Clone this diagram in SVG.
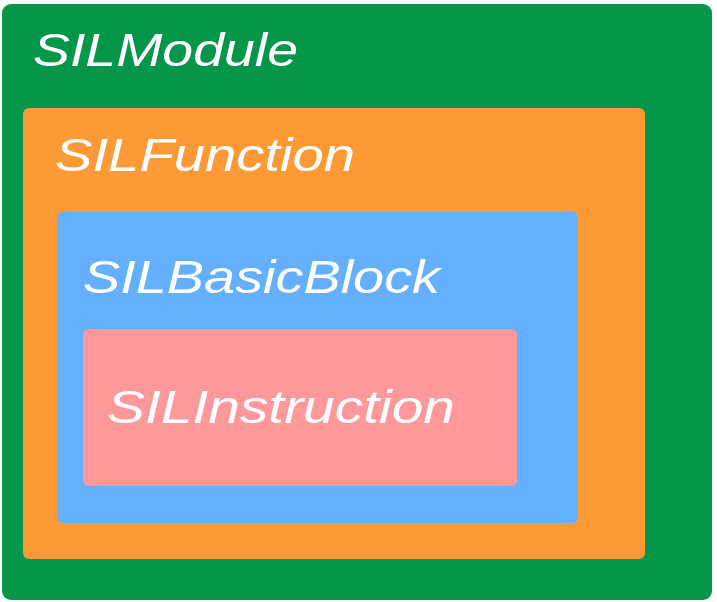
<svg xmlns="http://www.w3.org/2000/svg" width="717" height="602" viewBox="0 0 717 602">
<style>
text{font-family:"Liberation Sans",Arial,sans-serif;font-style:italic;font-size:46px;fill:#ffffff;}
</style>
<rect x="0" y="0" width="717" height="602" fill="#ffffff"/>
<g id="silmodule">
<rect x="2" y="4" width="710" height="596" rx="9" fill="#06964a"/>
<text x="33" y="66" textLength="265" lengthAdjust="spacingAndGlyphs">SILModule</text>
</g>
<g id="silfunction">
<rect x="23" y="108" width="622" height="451" rx="6" fill="#fd9a35"/>
<text x="55" y="171" textLength="300" lengthAdjust="spacingAndGlyphs">SILFunction</text>
</g>
<g id="silbasicblock">
<rect x="57" y="212" width="521" height="311" rx="6" fill="#65afff"/>
<text x="83" y="293" textLength="357" lengthAdjust="spacingAndGlyphs">SILBasicBlock</text>
</g>
<g id="silinstruction">
<rect x="83" y="329" width="434" height="157" rx="6" fill="#fe989a"/>
<text x="107" y="423" textLength="348" lengthAdjust="spacingAndGlyphs">SILInstruction</text>
</g>
<g id="connectors"></g>
</svg>
